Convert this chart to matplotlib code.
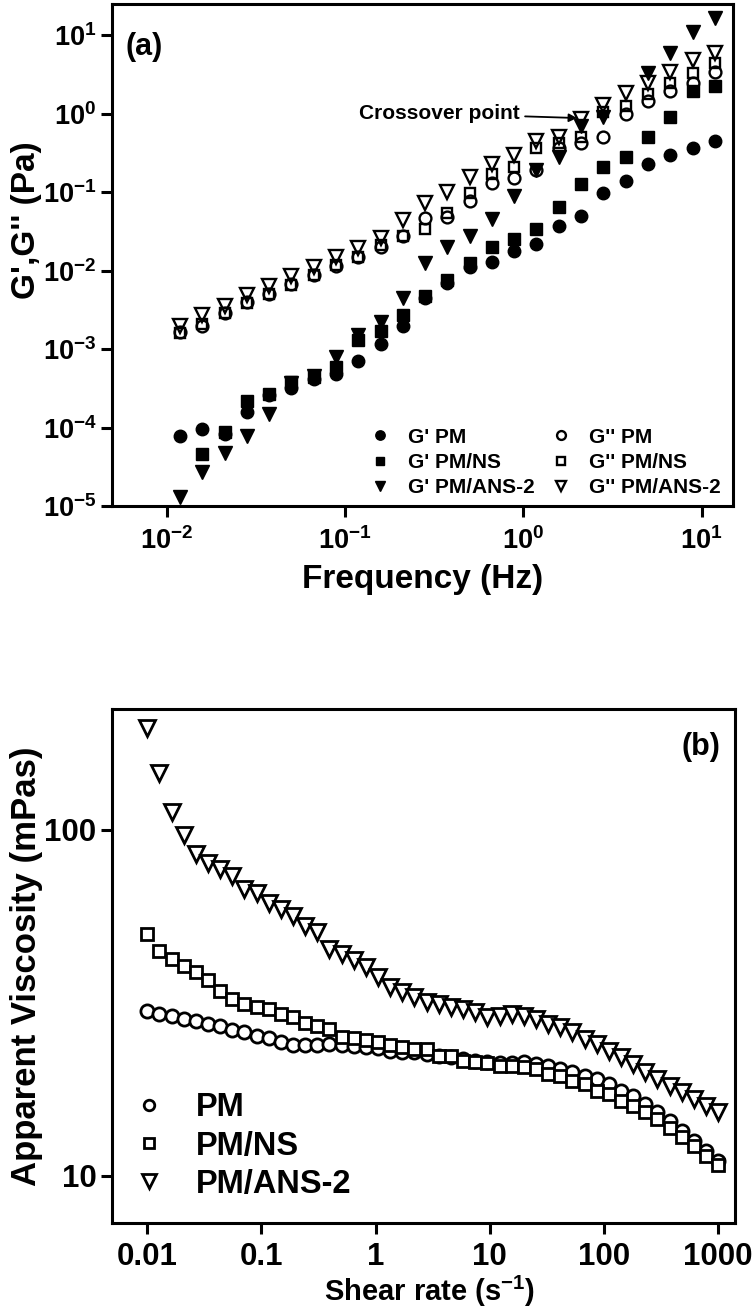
import matplotlib
matplotlib.use("Agg")
import matplotlib.pyplot as plt
from matplotlib import font_manager
from matplotlib.ticker import FixedLocator, FixedFormatter, NullLocator
import numpy as np

# 字体：有窄体就用窄体（刻度和轴标题看起来是窄的 Arial）
_names = {f.name for f in font_manager.fontManager.ttflist}
NARROW = "Liberation Sans Narrow" if "Liberation Sans Narrow" in _names else "Liberation Sans"
plt.rcParams["font.family"] = ["Liberation Sans", "DejaVu Sans"]
plt.rcParams["font.weight"] = "bold"
plt.rcParams["mathtext.fontset"] = "custom"
plt.rcParams["mathtext.rm"] = NARROW + ":bold"
plt.rcParams["mathtext.bf"] = NARROW + ":bold"
plt.rcParams["mathtext.it"] = NARROW + ":bold"

# ---- (a) 频率扫描数据 ----
freq = [0.0118, 0.0158, 0.0210, 0.0281, 0.0374, 0.0499, 0.0666, 0.0888,
        0.118, 0.158, 0.210, 0.281, 0.374, 0.499, 0.666, 0.888,
        1.18, 1.58, 2.10, 2.81, 3.74, 4.99, 6.66, 8.88, 11.8]
nan = float("nan")
gp_pm = [7.9e-5, 9.5e-5, 8.3e-5, 1.6e-4, 2.6e-4, 3.2e-4, 4.2e-4, 4.8e-4,
         7.1e-4, 1.15e-3, 1.95e-3, 4.5e-3, 6.9e-3, 1.1e-2, 1.3e-2, 1.8e-2,
         2.2e-2, 3.7e-2, 4.9e-2, 9.8e-2, 0.14, 0.23, 0.30, 0.37, 0.45]
gp_ns = [nan, 4.6e-5, 8.7e-5, 2.2e-4, 2.7e-4, 3.8e-4, 4.4e-4, 5.9e-4,
         1.3e-3, 1.7e-3, 2.7e-3, 4.8e-3, 7.6e-3, 1.26e-2, 2.0e-2, 2.5e-2,
         3.4e-2, 6.5e-2, 0.126, 0.21, 0.28, 0.50, 0.91, 1.95, 2.24]
gp_ans = [1.3e-5, 2.7e-5, 4.8e-5, 7.9e-5, 1.5e-4, 3.7e-4, 4.6e-4, 7.9e-4,
          1.5e-3, 2.2e-3, 4.5e-3, 1.26e-2, 2.0e-2, 2.75e-2, 4.6e-2, 8.9e-2,
          0.19, 0.28, 0.69, 0.91, nan, 3.3, 5.9, 11.0, 16.6]
gpp_pm = [1.66e-3, 2.0e-3, 2.9e-3, 4.0e-3, 5.1e-3, 6.8e-3, 8.7e-3, 1.15e-2,
          1.5e-2, 2.0e-2, 2.8e-2, 4.7e-2, 4.8e-2, 7.8e-2, 0.13, 0.15,
          0.19, 0.37, 0.42, 0.50, 0.98, 1.45, 1.95, 2.45, 3.4]
gpp_ns = [1.6e-3, 2.1e-3, 2.9e-3, 3.9e-3, 5.1e-3, 6.6e-3, 8.7e-3, 1.17e-2,
          1.5e-2, 2.1e-2, 2.75e-2, 3.4e-2, 5.4e-2, 9.8e-2, 0.17, 0.21,
          0.37, 0.42, 0.51, 1.05, 1.26, 1.8, 2.45, 3.3, 4.4]
gpp_ans = [2.0e-3, 2.7e-3, 3.5e-3, 4.9e-3, 6.3e-3, 8.5e-3, 1.1e-2, 1.5e-2,
           1.95e-2, 2.6e-2, 4.4e-2, 7.2e-2, 0.10, 0.155, 0.23, 0.30,
           0.45, 0.50, 0.85, 1.3, 1.85, 2.45, 3.4, 4.8, 6.0]

# ---- (b) 稳态剪切数据 ----
shear = [0.01, 0.01278, 0.01632, 0.02085, 0.02663, 0.03402, 0.04347, 0.05554,
         0.07096, 0.09066, 0.1158, 0.1480, 0.1891, 0.2415, 0.3086, 0.3943,
         0.5038, 0.6436, 0.8222, 1.050, 1.342, 1.714, 2.190, 2.798,
         3.574, 4.566, 5.834, 7.453, 9.522, 12.17, 15.54, 19.86,
         25.37, 32.41, 41.41, 52.90, 67.58, 86.34, 110.3, 140.9,
         180.0, 230.0, 293.8, 375.4, 479.6, 612.7, 782.8, 1000.0]
visc_pm = [29.9, 29.3, 28.9, 28.3, 28.0, 27.4, 27.1, 26.4, 26.0, 25.3,
           25.0, 24.3, 23.9, 23.9, 23.9, 24.0, 23.9, 23.7, 23.6, 23.4,
           22.9, 22.8, 22.8, 22.5, 22.2, 22.0, 21.7, 21.4, 21.3, 21.2,
           21.2, 21.3, 21.0, 20.8, 20.3, 19.9, 19.4, 19.0, 18.4, 17.6,
           17.0, 16.1, 15.3, 14.4, 13.5, 12.6, 11.8, 11.0]
visc_ns = [49.8, 44.5, 42.2, 40.3, 38.7, 36.7, 34.1, 32.4, 31.3, 30.7,
           30.3, 29.3, 28.7, 27.6, 27.1, 26.5, 25.2, 25.0, 24.7, 24.3,
           23.9, 23.6, 23.2, 23.2, 22.2, 22.2, 21.4, 21.3, 21.2, 20.8,
           20.8, 20.6, 20.3, 19.7, 19.4, 18.8, 18.4, 17.6, 17.2, 16.4,
           15.9, 15.3, 14.6, 13.7, 12.9, 12.2, 11.4, 10.7]
visc_ans = [197, 146, 112, 96.7, 84.7, 79.8, 76.7, 73.2, 67.2, 65.4,
            61.2, 58.8, 56.1, 52.5, 50.5, 45.1, 43.6, 41.9, 40.0, 37.4,
            35.1, 33.9, 32.8, 31.7, 31.3, 30.7, 30.3, 29.7, 28.7, 28.9,
            29.3, 28.9, 28.3, 27.4, 26.9, 26.0, 24.8, 24.0, 22.9, 22.0,
            21.0, 19.9, 19.0, 18.2, 17.5, 16.7, 15.9, 15.3]

fig = plt.figure(figsize=(7.56, 13.08), dpi=100)
ax1 = fig.add_axes([0.148, 0.613, 0.821, 0.384])
ax2 = fig.add_axes([0.148, 0.065, 0.824, 0.393])

TICK_FS = 22 if NARROW != "Liberation Sans" else 19.5
LABEL_FS = 26 if NARROW != "Liberation Sans" else 24


def style_axes(ax):
    for s in ax.spines.values():
        s.set_linewidth(2.2)
    ax.tick_params(which="major", direction="out", length=8, width=2.2,
                   top=False, right=False, pad=4)
    ax.xaxis.set_minor_locator(NullLocator())
    ax.yaxis.set_minor_locator(NullLocator())


# ---------- (a) ----------
ax1.set_xscale("log")
ax1.set_yscale("log")
ms_f = 9
kw_open = dict(linestyle="none", markerfacecolor="none", markeredgecolor="k",
               markeredgewidth=1.7)
ax1.plot(freq, gp_pm, "o", color="k", ms=ms_f, label="G' PM", linestyle="none")
ax1.plot(freq, gp_ns, "s", color="k", ms=ms_f - 1, label="G' PM/NS", linestyle="none")
ax1.plot(freq, gp_ans, "v", color="k", ms=ms_f + 0.5, label="G' PM/ANS-2", linestyle="none")
ax1.plot(freq, gpp_pm, "o", ms=ms_f - 0.5, label="G'' PM", **kw_open)
ax1.plot(freq, gpp_ns, "s", ms=ms_f - 1.5, label="G'' PM/NS", **kw_open)
ax1.plot(freq, gpp_ans, "v", ms=ms_f + 0.5, label="G'' PM/ANS-2", **kw_open)

ax1.set_xlim(0.0049, 14.9)
ax1.set_ylim(1e-5, 25)
style_axes(ax1)
xt = [1e-2, 1e-1, 1, 10]
ax1.xaxis.set_major_locator(FixedLocator(xt))
ax1.xaxis.set_major_formatter(FixedFormatter(
    [r"$\mathbf{10^{-2}}$", r"$\mathbf{10^{-1}}$", r"$\mathbf{10^{0}}$", r"$\mathbf{10^{1}}$"]))
yt = [1e-5, 1e-4, 1e-3, 1e-2, 1e-1, 1, 10]
ax1.yaxis.set_major_locator(FixedLocator(yt))
ax1.yaxis.set_major_formatter(FixedFormatter(
    [r"$\mathbf{10^{%d}}$" % e for e in range(-5, 2)]))
ax1.tick_params(axis="both", labelsize=TICK_FS)
ax1.tick_params(axis="x", pad=7)
ax1.tick_params(axis="y", pad=3)

ax1.set_xlabel("Frequency (Hz)", fontsize=LABEL_FS, fontweight="bold", family=NARROW)
ax1.set_ylabel("G',G'' (Pa)", fontsize=LABEL_FS, fontweight="bold", family=NARROW)
ax1.xaxis.set_label_coords(0.5, -0.115)
ax1.yaxis.set_label_coords(-0.113, 0.57)

ax1.text(0.022, 0.914, "(a)", transform=ax1.transAxes, fontsize=22,
         fontweight="bold", ha="left", va="center")
ax1.annotate("Crossover point", xy=(2.0, 0.88), xytext=(0.95, 1.0),
             fontsize=15, fontweight="bold", ha="right", va="center",
             arrowprops=dict(arrowstyle="-|>", color="k", lw=1.3,
                             mutation_scale=12, shrinkA=2, shrinkB=0))

h, l = ax1.get_legend_handles_labels()
ax1.legend(h, l, ncol=2, loc="lower left", bbox_to_anchor=(0.415, 0.018),
           frameon=False, fontsize=15, markerscale=0.75, handlelength=1.0,
           handletextpad=0.85, columnspacing=0.75, labelspacing=0.3,
           borderpad=0.0, borderaxespad=0.0)

# ---------- (b) ----------
ax2.set_xscale("log")
ax2.set_yscale("log")
kw_b = dict(linestyle="none", markerfacecolor="white", markeredgecolor="k",
            markeredgewidth=2.0)
ax2.plot(shear, visc_pm, "o", ms=9.5, label="PM", **kw_b)
ax2.plot(shear, visc_ns, "s", ms=9, label="PM/NS", **kw_b)
ax2.plot(shear, visc_ans, "v", ms=12, label="PM/ANS-2", **kw_b)

ax2.set_xlim(0.0049, 1400)
ax2.set_ylim(7.3, 223)
style_axes(ax2)
ax2.xaxis.set_major_locator(FixedLocator([0.01, 0.1, 1, 10, 100, 1000]))
ax2.xaxis.set_major_formatter(FixedFormatter(["0.01", "0.1", "1", "10", "100", "1000"]))
ax2.yaxis.set_major_locator(FixedLocator([10, 100]))
ax2.yaxis.set_major_formatter(FixedFormatter(["10", "100"]))
for lab in ax2.get_xticklabels() + ax2.get_yticklabels():
    lab.set_family(NARROW)
    lab.set_fontsize(TICK_FS + 3)
    lab.set_fontweight("bold")
ax2.tick_params(axis="x", pad=6)
ax2.tick_params(axis="y", pad=3)

ax2.set_xlabel(r"Shear rate (s$^{\mathbf{-1}}$)", fontsize=LABEL_FS - 3,
               fontweight="bold", family=NARROW)
ax2.set_ylabel("Apparent Viscosity (mPas)", fontsize=LABEL_FS + 1,
               fontweight="bold", family=NARROW)
ax2.xaxis.set_label_coords(0.51, -0.098)
ax2.yaxis.set_label_coords(-0.11, 0.5)

ax2.text(0.945, 0.926, "(b)", transform=ax2.transAxes, fontsize=22,
         fontweight="bold", ha="center", va="center")
ax2.legend(loc="lower left", bbox_to_anchor=(0.035, 0.045), frameon=False,
           fontsize=23.5, markerscale=0.8, handlelength=0.95, handletextpad=0.95,
           labelspacing=0.22, borderpad=0.0, borderaxespad=0.0)

fig.savefig("out.png", dpi=100)
